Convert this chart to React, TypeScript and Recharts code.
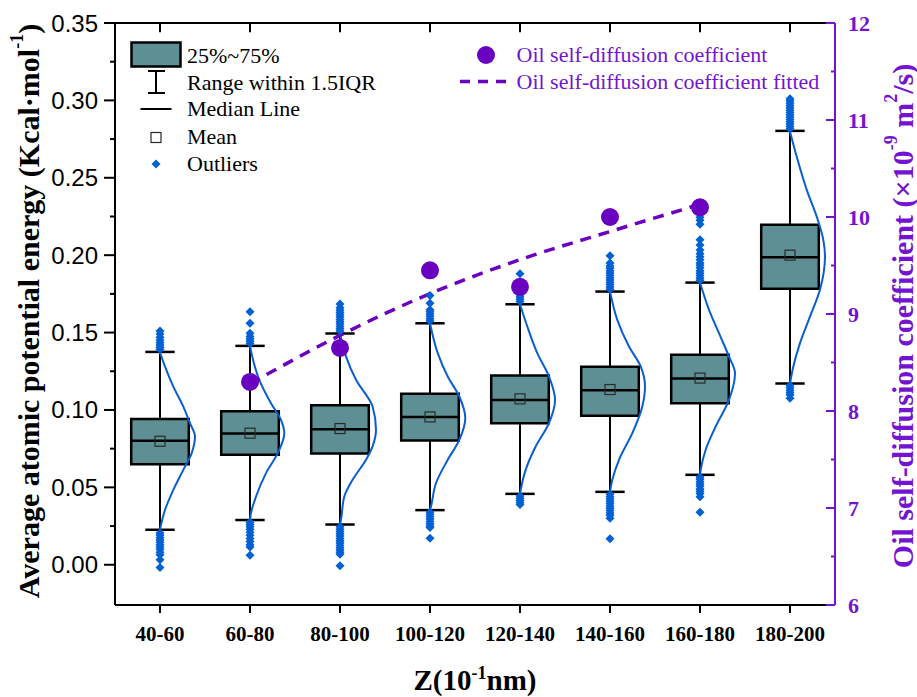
import React from "react";
import {
  ComposedChart,
  Line,
  ReferenceArea,
  ReferenceLine,
  Scatter,
  XAxis,
  YAxis,
} from "recharts";

const SERIF = "'Liberation Serif', 'Times New Roman', serif";
const SANS = "'Liberation Sans', Arial, sans-serif";
const TEAL = "#5E8F94";
const BLUE = "#0A5ED0";
const DIAMOND = "#0060D4";
const PURPLE = "#6A00C0";
const PURPLE_TEXT = "#7414D2";

// categories on the x axis (band centres at 0.5, 1.5, ...)
const categories = ["40-60", "60-80", "80-100", "100-120", "120-140", "140-160", "160-180", "180-200"];
const xTicks = [0.5, 1.5, 2.5, 3.5, 4.5, 5.5, 6.5, 7.5];
const leftTicks = [0, 0.025, 0.05, 0.075, 0.1, 0.125, 0.15, 0.175, 0.2, 0.225, 0.25, 0.275, 0.3, 0.325, 0.35];
const rightTicks = [6, 6.5, 7, 7.5, 8, 8.5, 9, 9.5, 10, 10.5, 11, 11.5, 12];

// box statistics (Kcal/mol)
const q1 = [0.065, 0.071, 0.0719, 0.0803, 0.0915, 0.0962, 0.1044, 0.1783];
const q3 = [0.0941, 0.0992, 0.1031, 0.1104, 0.1222, 0.128, 0.1356, 0.2196];
const medians = [0.0801, 0.0848, 0.0876, 0.0954, 0.1065, 0.1128, 0.1203, 0.1986];
const means = [0.0798, 0.085, 0.088, 0.0955, 0.1072, 0.1132, 0.1206, 0.2];
const whiskerLow = [0.0226, 0.0289, 0.026, 0.0353, 0.0458, 0.0471, 0.0581, 0.1171];
const whiskerHigh = [0.1375, 0.1414, 0.1494, 0.156, 0.1683, 0.1765, 0.1823, 0.2803];

const outliersHigh = [
  [0.139, 0.1405, 0.142, 0.1435, 0.145, 0.147, 0.149, 0.151],
  [0.143, 0.1445, 0.146, 0.1475, 0.1495, 0.156, 0.1635],
  [0.151, 0.1525, 0.154, 0.1555, 0.157, 0.1585, 0.16, 0.1615, 0.163, 0.1645, 0.166, 0.1685],
  [0.1575, 0.159, 0.1605, 0.162, 0.1635, 0.1648, 0.169, 0.174],
  [0.17, 0.1715, 0.173, 0.1745, 0.188],
  [0.178, 0.1795, 0.181, 0.1825, 0.184, 0.1855, 0.187, 0.1885, 0.19, 0.1915, 0.193, 0.195, 0.1997],
  [0.1838, 0.1853, 0.1868, 0.1883, 0.19, 0.1918, 0.1935, 0.195, 0.197, 0.199, 0.201, 0.2034, 0.2065, 0.2099, 0.22, 0.2225, 0.2245],
  [0.2817, 0.2832, 0.2847, 0.2862, 0.2877, 0.2892, 0.2907, 0.2922, 0.2937, 0.2952, 0.2967, 0.2982, 0.2997, 0.301],
];
const outliersLow = [
  [0.0205, 0.019, 0.0175, 0.016, 0.0145, 0.013, 0.0115, 0.01, 0.008, 0.0065, 0.0032, -0.0018],
  [0.0275, 0.026, 0.0245, 0.023, 0.021, 0.019, 0.017, 0.015, 0.013, 0.0115, 0.0062],
  [0.0245, 0.023, 0.0215, 0.02, 0.0185, 0.017, 0.0155, 0.014, 0.0125, 0.011, 0.0095, 0.008, 0.0068, -0.0006],
  [0.034, 0.0325, 0.031, 0.0295, 0.028, 0.0265, 0.025, 0.024, 0.0172],
  [0.0445, 0.043, 0.0415, 0.04, 0.039],
  [0.0456, 0.044, 0.0425, 0.041, 0.0395, 0.038, 0.0365, 0.035, 0.0335, 0.032, 0.03, 0.0168],
  [0.0567, 0.0552, 0.0537, 0.0522, 0.0507, 0.049, 0.0475, 0.046, 0.044, 0.034],
  [0.1158, 0.1143, 0.1128, 0.1113, 0.1098, 0.1075],
];

// distribution curves: energy value and curve width (in category bands)
const curveValues = [
  [0.0226, 0.0355, 0.0484, 0.0613, 0.0721, 0.0828, 0.0915, 0.1022, 0.1151, 0.128, 0.1371],
  [0.0289, 0.0334, 0.0441, 0.0592, 0.0721, 0.085, 0.0936, 0.1044, 0.1195, 0.131, 0.1414],
  [0.026, 0.0291, 0.0441, 0.0549, 0.0678, 0.0765, 0.0872, 0.1022, 0.1195, 0.1345, 0.1494],
  [0.0353, 0.0377, 0.0528, 0.0678, 0.0807, 0.0947, 0.1087, 0.1216, 0.1367, 0.156],
  [0.0458, 0.0484, 0.0613, 0.0764, 0.0915, 0.1065, 0.1216, 0.1367, 0.1539, 0.1683],
  [0.0471, 0.0549, 0.0678, 0.085, 0.1022, 0.1151, 0.1281, 0.141, 0.1582, 0.1765],
  [0.0581, 0.0613, 0.0743, 0.0893, 0.1065, 0.1238, 0.1345, 0.1496, 0.1647, 0.1823],
  [0.1171, 0.1281, 0.1432, 0.1603, 0.1776, 0.1991, 0.2099, 0.2249, 0.2422, 0.2637, 0.2798],
];
const curveWidths = [
  [0, 0.056, 0.148, 0.259, 0.352, 0.389, 0.333, 0.259, 0.148, 0.056, 0],
  [0, 0.011, 0.067, 0.178, 0.308, 0.381, 0.344, 0.233, 0.103, 0.04, 0],
  [0, 0.011, 0.048, 0.14, 0.289, 0.362, 0.4, 0.362, 0.178, 0.067, 0],
  [0, 0.011, 0.067, 0.197, 0.326, 0.392, 0.326, 0.197, 0.086, 0],
  [0, 0.008, 0.063, 0.174, 0.322, 0.389, 0.322, 0.192, 0.081, 0],
  [0, 0.026, 0.1, 0.248, 0.359, 0.389, 0.341, 0.211, 0.081, 0],
  [0, 0.008, 0.063, 0.174, 0.322, 0.389, 0.322, 0.211, 0.1, 0],
  [0, 0.037, 0.111, 0.222, 0.333, 0.389, 0.37, 0.297, 0.186, 0.074, 0],
];

// oil self-diffusion coefficient (x10^-9 m2/s), categories 60-80 .. 160-180
const diffusionIndex = [1, 2, 3, 4, 5, 6];
const diffusion = [8.3, 8.65, 9.45, 9.28, 10.0, 10.1];
const diffusionFit = [8.28, 8.78, 9.21, 9.56, 9.85, 10.13];

const BOX_HALF = 0.32;
const CAP_HALF = 0.163;
const TOP = 0.35;
const TOP_TICK = 0.006; // inward tick length on the top frame

const centre = (i: number) => xTicks[i];

const meanPoints = means.map((y, i) => ({ x: centre(i), y }));
const outlierPoints = categories.flatMap((_, i) =>
  [...outliersHigh[i], ...outliersLow[i]].map((y) => ({ x: centre(i), y }))
);
const diffusionPoints = diffusionIndex.map((ci, k) => ({ x: centre(ci), y: diffusion[k] }));
const fitPoints = diffusionIndex.map((ci, k) => ({ x: centre(ci), y: diffusionFit[k] }));
const curves = curveValues.map((vals, i) =>
  vals.map((y, k) => ({ x: centre(i) + curveWidths[i][k], y }))
);

const LeftTick = (props: any) => {
  const { x, y, payload } = props;
  const v: number = payload.value;
  const major = Math.round(v * 1000) % 50 === 0;
  return (
    <g>
      <line x1={x - (major ? 11 : 5)} x2={x} y1={y} y2={y} stroke="#000" strokeWidth={2} />
      {major && (
        <text x={x - 17} y={y} textAnchor="end" dominantBaseline="central" fontFamily={SANS} fontSize={24} fill="#000">
          {v.toFixed(2)}
        </text>
      )}
    </g>
  );
};

const RightTick = (props: any) => {
  const { x, y, payload } = props;
  const v: number = payload.value;
  const major = Number.isInteger(v);
  return (
    <g>
      <line x1={x - (major ? 9 : 4)} x2={x} y1={y} y2={y} stroke={PURPLE_TEXT} strokeWidth={2} />
      {major && (
        <text x={x + 13} y={y} textAnchor="start" dominantBaseline="central" fontFamily={SERIF} fontWeight="bold" fontSize={22} fill={PURPLE_TEXT}>
          {v}
        </text>
      )}
    </g>
  );
};

const Diamond = (props: any) => {
  const { cx, cy } = props;
  const s = 4.5;
  return <polygon points={`${cx},${cy - s} ${cx + s},${cy} ${cx},${cy + s} ${cx - s},${cy}`} fill={DIAMOND} />;
};

const MeanSquare = (props: any) => {
  const { cx, cy } = props;
  return <rect x={cx - 5} y={cy - 5} width={10} height={10} fill="none" stroke="#2a2a2a" strokeWidth={1.2} />;
};

const Dot = (props: any) => {
  const { cx, cy } = props;
  return <circle cx={cx} cy={cy} r={9} fill={PURPLE} />;
};

export default function App() {
  return (
    <div style={{ position: "absolute", left: 0, top: 0, width: 917, height: 697, background: "#fff" }}>
      <ComposedChart width={917} height={697} margin={{ top: 23, right: 32, bottom: 52, left: 45 }}>
        <XAxis
          xAxisId="b"
          type="number"
          dataKey="x"
          domain={[0, 8]}
          ticks={xTicks}
          interval={0}
          allowDataOverflow
          height={40}
          tickFormatter={(v: number) => categories[Math.round(v - 0.5)]}
          tick={{ fontFamily: SERIF, fontWeight: "bold", fontSize: 21, fill: "#000" }}
          tickSize={8}
          tickMargin={13}
          axisLine={{ stroke: "#000", strokeWidth: 2 }}
          tickLine={{ stroke: "#000", strokeWidth: 2 }}
        />
        <YAxis
          yAxisId="l"
          dataKey="y"
          type="number"
          domain={[-0.026, TOP]}
          ticks={leftTicks}
          interval={0}
          allowDataOverflow
          width={70}
          tickSize={0}
          tickMargin={0}
          tickLine={false}
          tick={<LeftTick />}
          axisLine={{ stroke: "#000", strokeWidth: 2 }}
        />
        <YAxis
          yAxisId="r"
          orientation="right"
          dataKey="y"
          type="number"
          domain={[6, 12]}
          ticks={rightTicks}
          interval={0}
          allowDataOverflow
          width={50}
          tickSize={0}
          tickMargin={0}
          tickLine={false}
          tick={<RightTick />}
          axisLine={{ stroke: PURPLE_TEXT, strokeWidth: 2 }}
        />

        {/* top frame line with inward ticks */}
        <ReferenceLine xAxisId="b" yAxisId="l" y={TOP} stroke="#000" strokeWidth={2} />
        {xTicks.map((t) => (
          <ReferenceLine
            key={`top-${t}`}
            xAxisId="b"
            yAxisId="l"
            segment={[{ x: t, y: TOP }, { x: t, y: TOP - TOP_TICK }]}
            stroke="#000"
            strokeWidth={2}
          />
        ))}

        {/* whiskers */}
        {categories.map((c, i) => (
          <ReferenceLine
            key={`wl-${c}`}
            xAxisId="b"
            yAxisId="l"
            segment={[{ x: centre(i), y: whiskerLow[i] }, { x: centre(i), y: q1[i] }]}
            stroke="#000"
            strokeWidth={2}
          />
        ))}
        {categories.map((c, i) => (
          <ReferenceLine
            key={`wh-${c}`}
            xAxisId="b"
            yAxisId="l"
            segment={[{ x: centre(i), y: q3[i] }, { x: centre(i), y: whiskerHigh[i] }]}
            stroke="#000"
            strokeWidth={2}
          />
        ))}
        {categories.map((c, i) => (
          <ReferenceLine
            key={`cl-${c}`}
            xAxisId="b"
            yAxisId="l"
            segment={[{ x: centre(i) - CAP_HALF, y: whiskerLow[i] }, { x: centre(i) + CAP_HALF, y: whiskerLow[i] }]}
            stroke="#000"
            strokeWidth={2.5}
          />
        ))}
        {categories.map((c, i) => (
          <ReferenceLine
            key={`ch-${c}`}
            xAxisId="b"
            yAxisId="l"
            segment={[{ x: centre(i) - CAP_HALF, y: whiskerHigh[i] }, { x: centre(i) + CAP_HALF, y: whiskerHigh[i] }]}
            stroke="#000"
            strokeWidth={2.5}
          />
        ))}

        {/* boxes */}
        {categories.map((c, i) => (
          <ReferenceArea
            key={`box-${c}`}
            xAxisId="b"
            yAxisId="l"
            x1={centre(i) - BOX_HALF}
            x2={centre(i) + BOX_HALF}
            y1={q1[i]}
            y2={q3[i]}
            fill={TEAL}
            fillOpacity={1}
            stroke="#000"
            strokeWidth={2.5}
          />
        ))}
        {categories.map((c, i) => (
          <ReferenceLine
            key={`md-${c}`}
            xAxisId="b"
            yAxisId="l"
            segment={[{ x: centre(i) - BOX_HALF, y: medians[i] }, { x: centre(i) + BOX_HALF, y: medians[i] }]}
            stroke="#000"
            strokeWidth={2.5}
          />
        ))}

        {/* distribution curves */}
        {curves.map((pts, i) => (
          <Line
            key={`curve-${categories[i]}`}
            xAxisId="b"
            yAxisId="l"
            data={pts}
            dataKey="y"
            type="monotoneY"
            stroke={BLUE}
            strokeWidth={2}
            dot={false}
            activeDot={false}
            isAnimationActive={false}
          />
        ))}

        <Line
          xAxisId="b"
          yAxisId="r"
          data={fitPoints}
          dataKey="y"
          type="monotone"
          stroke={PURPLE}
          strokeWidth={3.5}
          strokeDasharray="11 8"
          dot={false}
          activeDot={false}
          isAnimationActive={false}
        />

        <Scatter xAxisId="b" yAxisId="l" data={outlierPoints} shape={<Diamond />} isAnimationActive={false} />
        <Scatter xAxisId="b" yAxisId="l" data={meanPoints} shape={<MeanSquare />} isAnimationActive={false} />
        <Scatter xAxisId="b" yAxisId="r" data={diffusionPoints} shape={<Dot />} isAnimationActive={false} />
      </ComposedChart>

      <svg width={917} height={697} style={{ position: "absolute", left: 0, top: 0, pointerEvents: "none" }}>
        {/* axis titles */}
        <text
          x={28}
          y={311}
          transform="rotate(-90, 28, 311)"
          textAnchor="middle"
          dominantBaseline="central"
          fontFamily={SERIF}
          fontWeight="bold"
          fontSize={30}
          fill="#000"
        >
          Average atomic potential energy (Kcal·mol
          <tspan dy={-11} fontSize={18}>-1</tspan>
          <tspan dy={11}>)</tspan>
        </text>
        <text
          x={902}
          y={316}
          transform="rotate(-90, 902, 316)"
          textAnchor="middle"
          dominantBaseline="central"
          fontFamily={SERIF}
          fontWeight="bold"
          fontSize={30}
          fill={PURPLE_TEXT}
        >
          Oil self-diffusion coefficient (×10
          <tspan dy={-11} fontSize={18}>-9</tspan>
          <tspan dy={11}> m</tspan>
          <tspan dy={-11} fontSize={18}>2</tspan>
          <tspan dy={11}>/s)</tspan>
        </text>
        <text x={475} y={690} textAnchor="middle" fontFamily={SERIF} fontWeight="bold" fontSize={29} fill="#000">
          Z(10
          <tspan dy={-11} fontSize={18}>-1</tspan>
          <tspan dy={11}>nm)</tspan>
        </text>

        {/* box legend */}
        <rect x={131.5} y={42.5} width={49} height={24} fill={TEAL} stroke="#000" strokeWidth={2.5} />
        <text x={187} y={63} fontFamily={SERIF} fontSize={22} fill="#000">25%~75%</text>
        <line x1={156} x2={156} y1={71} y2={93} stroke="#000" strokeWidth={2} />
        <line x1={148} x2={165} y1={71} y2={71} stroke="#000" strokeWidth={2} />
        <line x1={148} x2={165} y1={93} y2={93} stroke="#000" strokeWidth={2} />
        <text x={187} y={89.5} fontFamily={SERIF} fontSize={22} fill="#000">Range within 1.5IQR</text>
        <line x1={140.5} x2={171.5} y1={109} y2={109} stroke="#000" strokeWidth={2} />
        <text x={187} y={116} fontFamily={SERIF} fontSize={22} fill="#000">Median Line</text>
        <rect x={151} y={132.5} width={10} height={10} fill="none" stroke="#2a2a2a" strokeWidth={1.2} />
        <text x={187} y={143.5} fontFamily={SERIF} fontSize={22} fill="#000">Mean</text>
        <polygon points="156,159.5 160.5,164 156,168.5 151.5,164" fill={DIAMOND} />
        <text x={187} y={171} fontFamily={SERIF} fontSize={22} fill="#000">Outliers</text>

        {/* diffusion legend */}
        <circle cx={486} cy={55} r={9} fill={PURPLE} />
        <text x={516.5} y={62} fontFamily={SERIF} fontSize={22} fill={PURPLE_TEXT}>Oil self-diffusion coefficient</text>
        <line x1={460} x2={510} y1={81.5} y2={81.5} stroke={PURPLE} strokeWidth={3.5} strokeDasharray="10 8" />
        <text x={516.5} y={88.5} fontFamily={SERIF} fontSize={22} fill={PURPLE_TEXT}>Oil self-diffusion coefficient fitted</text>
      </svg>
    </div>
  );
}
